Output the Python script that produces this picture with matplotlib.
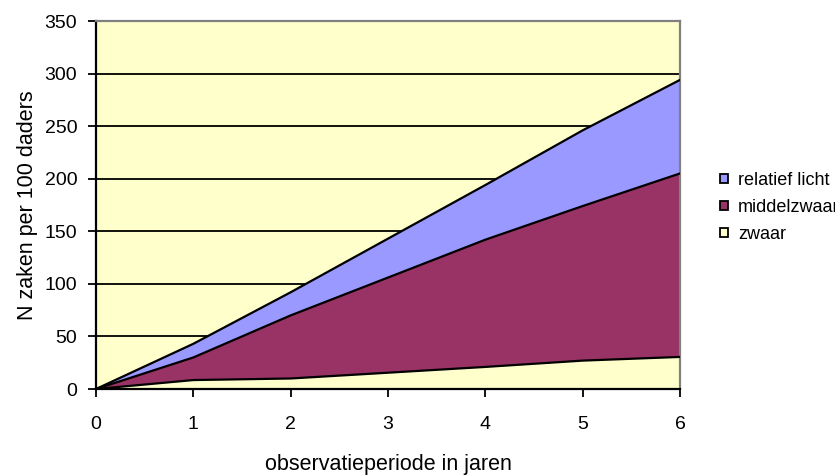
import matplotlib
matplotlib.use("Agg")
import matplotlib.pyplot as plt
from matplotlib.patches import Patch

plt.rcParams['font.family'] = ['Liberation Sans', 'DejaVu Sans']

years = [0, 1, 2, 3, 4, 5, 6]
zwaar = [0, 8.5, 10, 15.5, 21, 27, 30.5]
middelzwaar = [0, 21.5, 60, 90.5, 121, 147, 174.5]
relatief_licht = [0, 13, 22, 37, 52, 72, 89]
series_names = ["zwaar", "middelzwaar", "relatief licht"]
colors = ["#FFFFCC", "#993366", "#9999FF"]
yticks = [0, 50, 100, 150, 200, 250, 300, 350]

fig = plt.figure(figsize=(8.35, 4.75), dpi=100)
W, H = 835, 475
left, right, top, bottom = 96, 680, 21, 389
ax = fig.add_axes([left / W, 1 - bottom / H, (right - left) / W, (bottom - top) / H])
ax.set_facecolor("#FFFFCC")

for yv in yticks[1:-1]:
    ax.axhline(yv, color="black", lw=1.3, zorder=1)

ax.stackplot(years, zwaar, middelzwaar, relatief_licht,
             colors=colors, edgecolor="none", zorder=2)
cum = [0] * len(years)
for s in (zwaar, middelzwaar, relatief_licht):
    cum = [a + b for a, b in zip(cum, s)]
    ax.plot(years, cum, color="black", lw=1.6, zorder=3, solid_joinstyle="round")

ax.set_xlim(0, 6)
ax.set_ylim(0, 350)
ax.set_xticks(years)
ax.set_yticks(yticks)
ax.tick_params(axis="both", direction="out", length=5.5, width=1.3, color="black",
               labelsize=14)
ax.tick_params(axis="y", pad=8)
ax.tick_params(axis="x", pad=14)
for s in ("top", "right"):
    ax.spines[s].set_color("#808080")
    ax.spines[s].set_linewidth(1.6)
for s in ("left", "bottom"):
    ax.spines[s].set_color("black")
    ax.spines[s].set_linewidth(1.6)

ax.set_xlabel("observatieperiode in jaren", fontsize=15.5, labelpad=15)
ax.set_ylabel("N zaken per 100 daders", fontsize=15.5, labelpad=5)

handles = [Patch(facecolor=colors[i], edgecolor="black", lw=1.3, label=series_names[i])
           for i in (2, 1, 0)]
fig.legend(handles=handles, loc="upper left", bbox_to_anchor=(720 / W, 1 - 172 / H),
           frameon=False, fontsize=13, handlelength=0.45, handleheight=0.45,
           handletextpad=0.55, labelspacing=0.55, borderpad=0, borderaxespad=0)

fig.savefig("out.png", dpi=100)
